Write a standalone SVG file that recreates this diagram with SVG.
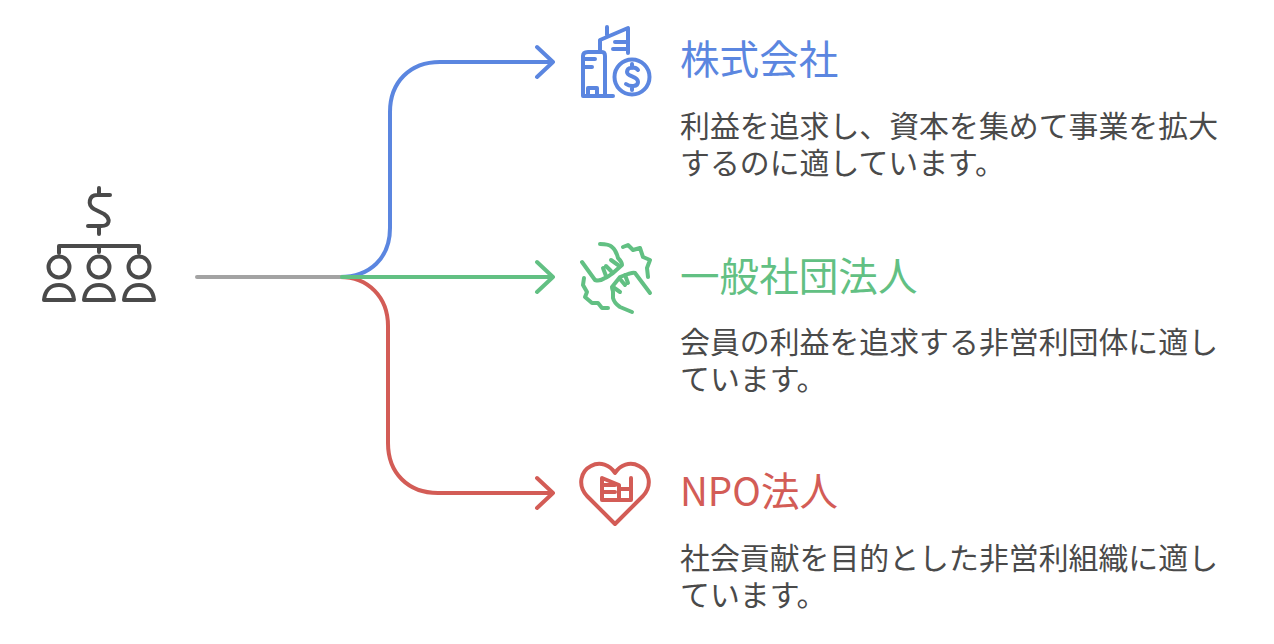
<svg xmlns="http://www.w3.org/2000/svg" width="1274" height="644" viewBox="0 0 1274 644">
<style>
text{font-family:"Noto Sans CJK JP","Noto Sans",sans-serif}
.t{font-size:39.6px}
.b{font-size:29.9px;fill:#4a4a4a}
.l{fill:none;stroke-width:4;stroke-linecap:round;stroke-linejoin:round}
.i{fill:none;stroke-width:4;stroke-linecap:round;stroke-linejoin:round}
.blue{stroke:#5b86e0}.green{stroke:#62c083}.red{stroke:#d35c56}.gray{stroke:#4a4a4a}
</style>
<rect width="1274" height="644" fill="#fff"/>
<g id="connectors">
<path class="l blue" d="M340 277C370 277 390 258 390 228V112C390 82 410 62 440 62H552M537 47L553 62L537 77"/>
<path class="l red" d="M340 277C368 277 388 297 388 326V443C388 473 408 493 438 493H552M537 478L553 493L537 508"/>
<path class="l" stroke="#a3a3a3" d="M197 277H342"/>
<path class="l green" d="M342 277H552M537 262L553 277L537 292"/>
</g>
<g id="root">
<g class="i gray">
<path d="M99 188V195M110 195H97C89 195 87 205 94 209L104 214C111 219 110 226 101 226H88M99 226V234"/>
<path d="M59 253V246H139V253M99 246V252"/>
<circle cx="59" cy="267" r="10.5"/><circle cx="99" cy="267" r="10.5"/><circle cx="139" cy="267" r="10.5"/>
<path d="M44 300C45 290 51 285 59 285C67 285 73 290 74 300Z"/>
<path d="M84 300C85 290 91 285 99 285C107 285 113 290 114 300Z"/>
<path d="M124 300C125 290 131 285 139 285C147 285 153 290 154 300Z"/>
</g>
</g>
<g id="n1">
<g class="i blue">
<path d="M583 96V56C583 53 585 52 588 52H602C604 52 605 53 605 56V96Z"/>
<path d="M585 59H595M585 67H592M588 96V88H597V96M605 96H613"/>
<path d="M600 52V40L628 28V53M607 27V35M615 42H627M613 49H627"/>
<circle cx="632" cy="77" r="17.5"/>
<path d="M638 70C635 66 627 67 627 72C627 77 638 76 638 82C638 87 630 87 626 84M632 64V68M632 86V90"/>
</g>
<text class="t" x="680" y="74" fill="#5b86e0">株式会社</text>
<text class="b" x="680"><tspan x="680" y="137">利益を追求し、資本を集めて事業を拡大</tspan><tspan x="680" y="174">するのに適しています。</tspan></text>
</g>
<g id="n2">
<g class="i green">
<path d="M600 244C606 244 610 245 612 247C616 250 617 254 618 258C620 260 622 263 622 265L613 273C610 275 607 278 605 278C602 280 598 281 595 280L582 262"/>
<path d="M606 276L603 268M611 271L606 266M618 265L611 260"/>
<path d="M623 247L628 245L633 250L640 248L643 257L650 260L647 268L648 277"/>
<path d="M584 278L583 285L587 292L585 297L592 303L598 303L602 308L608 308"/>
<path d="M650 293L635 273C632 272 630 274 628 274L620 277L612 287C612 289 613 290 613 292L613 298C614 302 617 305 620 307L632 312"/>
<path d="M625 275L628 283M620 279L625 285M613 287L620 292"/>
</g>
<text class="t" x="680" y="291" fill="#62c083">一般社団法人</text>
<text class="b" x="680"><tspan x="680" y="353">会員の利益を追求する非営利団体に適し</tspan><tspan x="680" y="390">ています。</tspan></text>
</g>
<g id="n3">
<g class="i red">
<path d="M615 524L587 496C577 485 581 471 591 466C600 461 610 465 615 473C620 465 630 461 639 466C649 471 653 485 643 496Z"/>
<path d="M602 500V478L619 485V500M602 485H615M602 492H615M602 500H631V478M619 489H631"/>
</g>
<text class="t" x="680" y="506" fill="#d35c56" textLength="158" lengthAdjust="spacingAndGlyphs">NPO法人</text>
<text class="b" x="680"><tspan x="680" y="569">社会貢献を目的とした非営利組織に適し</tspan><tspan x="680" y="606">ています。</tspan></text>
</g>
</svg>
